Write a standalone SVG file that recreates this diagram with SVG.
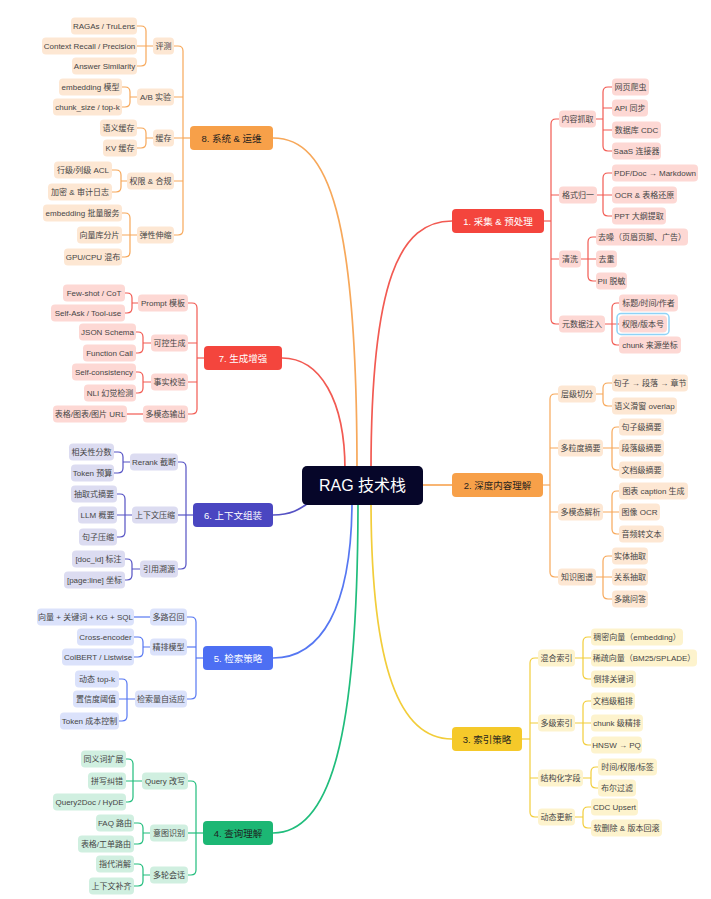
<svg xmlns="http://www.w3.org/2000/svg" width="711" height="899" viewBox="0 0 711 899">
<style>
text{font-family:"Liberation Sans","Noto Sans CJK SC",sans-serif;text-anchor:middle;dominant-baseline:central}
.n text{font-size:8px;fill:#454545}
.n rect{rx:4;ry:4}
.rd rect{fill:#fdd8d4}.or rect{fill:#fde7d3}.ye rect{fill:#fdf3cd}.gr rect{fill:#d0efe0}.bl rect{fill:#dbe2fb}.in rect{fill:#dcdcf1}
.b rect{rx:4;ry:4}.b text{font-size:9.5px}
.w text{fill:#fff}.k text{fill:#1e1e1e}
.c path{fill:none;stroke-width:1.2}
.m path{fill:none;stroke-width:1.7}
.cr path{stroke:#f25a52}.co path{stroke:#f7a85a}.cy path{stroke:#f2cd3a}.cg path{stroke:#20bd7c}.cb path{stroke:#5677f2}.ci path{stroke:#5552c4}
</style>
<g id="connectors">
<g class="m">
<path d="M371,470 C371,280 400,221 452,221" stroke="#f25a52"/>
<path d="M357,470 C357,220 330,138 273,138" stroke="#f7a85a"/>
<path d="M345,470 C345,400 320,358 282,358" stroke="#f25a52"/>
<path d="M273,515 C290,515 300,510 312,500" stroke="#5552c4"/>
<path d="M352,500 C352,610 320,658 273,658" stroke="#5677f2"/>
<path d="M358,500 C358,740 330,833 273,833" stroke="#20bd7c"/>
<path d="M371,500 C371,670 400,739 452,739" stroke="#f2cd3a"/>
<path d="M420,485 H452" stroke="#f7a85a"/>
</g>
<g class="c cr">
<path d="M544,221 H551"/>
<path d="M559,119 H556 Q551,119 551,124 V319 Q551,324 556,324 H559"/>
<path d="M551,195 H559 M551,259 H559"/>
<path d="M596,119 H603 M612,87 H608 Q603,87 603,92 V146 Q603,151 608,151 H612 M603,108 H612 M603,130 H612"/>
<path d="M597,195 H603 M612,173 H608 Q603,173 603,178 V211 Q603,216 608,216 H612 M603,195 H612"/>
<path d="M581,259 H588 M596,237 H593 Q588,237 588,242 V276 Q588,281 593,281 H596 M588,259 H596"/>
<path d="M605,324 H612 M619,303 H617 Q612,303 612,308 V340 Q612,345 617,345 H619 M612,324 H619"/>
<path d="M204,358 H197"/>
<path d="M188,303 H192 Q197,303 197,308 V409 Q197,414 192,414 H188"/>
<path d="M197,343 H188 M197,382 H188"/>
<path d="M138,303 H132 M125,293 H127 Q132,293 132,298 V308 Q132,313 127,313 H125"/>
<path d="M151,343 H143 M136,332 H138 Q143,332 143,337 V348 Q143,353 138,353 H136"/>
<path d="M151,382 H143 M136,372 H138 Q143,372 143,377 V388 Q143,393 138,393 H136"/>
<path d="M143,414 H127"/>
</g>
<g class="c co">
<path d="M543,485 H550"/>
<path d="M558,394 H555 Q550,394 550,399 V572 Q550,577 555,577 H558"/>
<path d="M550,448 H558 M550,512 H558"/>
<path d="M596,394 H603 M612,383 H608 Q603,383 603,388 V401 Q603,406 608,406 H612"/>
<path d="M603,448 H612 M619,427 H617 Q612,427 612,432 V465 Q612,470 617,470 H619 M612,448 H619"/>
<path d="M603,512 H612 M619,491 H617 Q612,491 612,496 V529 Q612,534 617,534 H619 M612,512 H619"/>
<path d="M596,577 H603 M612,556 H608 Q603,556 603,561 V594 Q603,599 608,599 H612 M603,577 H612"/>
<path d="M190,138 H183"/>
<path d="M174,46 H178 Q183,46 183,51 V230 Q183,235 178,235 H174"/>
<path d="M183,97 H174 M183,138 H174 M183,181 H174"/>
<path d="M153,46 H146 M137,26 H141 Q146,26 146,31 V61 Q146,66 141,66 H137 M146,46 H137"/>
<path d="M137,97 H130 M122,87 H125 Q130,87 130,92 V102 Q130,107 125,107 H122"/>
<path d="M153,138 H146 M137,128 H141 Q146,128 146,133 V143 Q146,148 141,148 H137"/>
<path d="M127,181 H121 M112,170 H116 Q121,170 121,175 V187 Q121,192 116,192 H112"/>
<path d="M137,235 H130 M122,213 H125 Q130,213 130,218 V252 Q130,257 125,257 H122 M130,235 H122"/>
</g>
<g class="c cy">
<path d="M522,739 H530"/>
<path d="M538,658 H535 Q530,658 530,663 V812 Q530,817 535,817 H538"/>
<path d="M530,723 H538 M530,778 H538"/>
<path d="M575,658 H583 M591,637 H588 Q583,637 583,642 V674 Q583,679 588,679 H591 M583,658 H591"/>
<path d="M575,723 H583 M591,701 H588 Q583,701 583,706 V740 Q583,745 588,745 H591 M583,723 H591"/>
<path d="M583,778 H591 M598,767 H596 Q591,767 591,772 V783 Q591,788 596,788 H598"/>
<path d="M575,817 H583 M591,807 H588 Q583,807 583,812 V823 Q583,828 588,828 H591"/>
</g>
<g class="c ci">
<path d="M193,515 H186"/>
<path d="M178,462 H181 Q186,462 186,467 V564 Q186,569 181,569 H178"/>
<path d="M186,515 H178"/>
<path d="M130,462 H123 M114,452 H118 Q123,452 123,457 V468 Q123,473 118,473 H114"/>
<path d="M132,515 H125 M117,494 H120 Q125,494 125,499 V532 Q125,537 120,537 H117 M125,515 H117"/>
<path d="M140,569 H132 M125,559 H127 Q132,559 132,564 V575 Q132,580 127,580 H125"/>
</g>
<g class="c cb">
<path d="M203,658 H196"/>
<path d="M187,617 H191 Q196,617 196,622 V694 Q196,699 191,699 H187"/>
<path d="M196,647 H187"/>
<path d="M150,617 H134"/>
<path d="M150,647 H143 M134,637 H138 Q143,637 143,642 V652 Q143,657 138,657 H134"/>
<path d="M135,699 H127 M119,679 H122 Q127,679 127,684 V716 Q127,721 122,721 H119 M127,699 H119"/>
</g>
<g class="c cg">
<path d="M203,833 H196"/>
<path d="M188,781 H191 Q196,781 196,786 V870 Q196,875 191,875 H188"/>
<path d="M196,833 H188"/>
<path d="M142,781 H133 M126,759 H128 Q133,759 133,764 V797 Q133,802 128,802 H126 M133,781 H126"/>
<path d="M150,833 H143 M134,823 H138 Q143,823 143,828 V839 Q143,844 138,844 H134"/>
<path d="M150,875 H143 M134,864 H138 Q143,864 143,869 V881 Q143,886 138,886 H134"/>
</g>
</g>
<g id="root"><rect x="302" y="466" width="121" height="39" rx="5" fill="#060629"/><text x="362.5" y="485.5" font-size="16" fill="#fff">RAG 技术栈</text></g>
<g class="b w" id="b1"><rect x="452" y="209" width="92" height="24" fill="#f4453d"/><text x="498" y="221">1. 采集 &amp; 预处理</text></g>
<g class="b k" id="b2"><rect x="452" y="473" width="91" height="24" fill="#f7a049"/><text x="497.5" y="485">2. 深度内容理解</text></g>
<g class="b k" id="b3"><rect x="452" y="727" width="70" height="24" fill="#f5c92a"/><text x="487" y="739">3. 索引策略</text></g>
<g class="b k" id="b4"><rect x="203" y="821" width="70" height="24" fill="#1cb774"/><text x="238" y="833">4. 查询理解</text></g>
<g class="b w" id="b5"><rect x="203" y="646" width="70" height="24" fill="#4d6ff3"/><text x="238" y="658">5. 检索策略</text></g>
<g class="b w" id="b6"><rect x="193" y="503" width="80" height="24" fill="#4a46c1"/><text x="233" y="515">6. 上下文组装</text></g>
<g class="b w" id="b7"><rect x="204" y="346" width="78" height="24" fill="#f4453d"/><text x="243" y="358">7. 生成增强</text></g>
<g class="b k" id="b8"><rect x="190" y="126" width="83" height="24" fill="#f7a049"/><text x="231.5" y="138">8. 系统 &amp; 运维</text></g>

<g class="n rd">
<g id="n1a"><rect x="559" y="110.5" width="37" height="17"/><text x="577.5" y="119">内容抓取</text></g>
<g id="n1a1"><rect x="612" y="78.5" width="37" height="17"/><text x="630.5" y="87">网页爬虫</text></g>
<g id="n1a2"><rect x="612" y="99.5" width="36" height="17"/><text x="630" y="108">API 同步</text></g>
<g id="n1a3"><rect x="612" y="121.5" width="49" height="17"/><text x="636.5" y="130">数据库 CDC</text></g>
<g id="n1a4"><rect x="612" y="142.5" width="49" height="17"/><text x="636.5" y="151">SaaS 连接器</text></g>
<g id="n1b"><rect x="559" y="186.5" width="38" height="17"/><text x="578" y="195">格式归一</text></g>
<g id="n1b1"><rect x="612" y="164.5" width="86" height="17"/><text x="655" y="173">PDF/Doc → Markdown</text></g>
<g id="n1b2"><rect x="612" y="186.5" width="65" height="17"/><text x="644.5" y="195">OCR &amp; 表格还原</text></g>
<g id="n1b3"><rect x="612" y="207.5" width="54" height="17"/><text x="639" y="216">PPT 大纲提取</text></g>
<g id="n1c"><rect x="559" y="250.5" width="22" height="17"/><text x="570" y="259">清洗</text></g>
<g id="n1c1"><rect x="596" y="228.5" width="92" height="17"/><text x="642" y="237">去噪（页眉页脚、广告）</text></g>
<g id="n1c2"><rect x="596" y="250.5" width="21" height="17"/><text x="606.5" y="259">去重</text></g>
<g id="n1c3"><rect x="596" y="272.5" width="31" height="17"/><text x="611.5" y="281">PII 脱敏</text></g>
<g id="n1d"><rect x="559" y="315.5" width="46" height="17"/><text x="582" y="324">元数据注入</text></g>
<g id="n1d1"><rect x="619" y="294.5" width="59" height="17"/><text x="648.5" y="303">标题/时间/作者</text></g>
<g id="n1d2"><rect x="617" y="313.5" width="52" height="21" fill="none" stroke="#8fd3f7" stroke-width="1.5" style="fill:none"/><rect x="619" y="315.5" width="48" height="17"/><text x="643" y="324">权限/版本号</text></g>
<g id="n1d3"><rect x="619" y="336.5" width="62" height="17"/><text x="650" y="345">chunk 来源坐标</text></g>
<g id="n7a"><rect x="138" y="294.5" width="50" height="17"/><text x="163" y="303">Prompt 模板</text></g>
<g id="n7a1"><rect x="63" y="284.5" width="62" height="17"/><text x="94" y="293">Few-shot / CoT</text></g>
<g id="n7a2"><rect x="51" y="304.5" width="74" height="17"/><text x="88" y="313">Self-Ask / Tool-use</text></g>
<g id="n7b"><rect x="151" y="334.5" width="37" height="17"/><text x="169.5" y="343">可控生成</text></g>
<g id="n7b1"><rect x="79" y="323.5" width="57" height="17"/><text x="107.5" y="332">JSON Schema</text></g>
<g id="n7b2"><rect x="83" y="344.5" width="53" height="17"/><text x="109.5" y="353">Function Call</text></g>
<g id="n7c"><rect x="151" y="373.5" width="37" height="17"/><text x="169.5" y="382">事实校验</text></g>
<g id="n7c1"><rect x="72" y="363.5" width="64" height="17"/><text x="104" y="372">Self-consistency</text></g>
<g id="n7c2"><rect x="84" y="384.5" width="52" height="17"/><text x="110" y="393">NLI 幻觉检测</text></g>
<g id="n7d"><rect x="143" y="405.5" width="45" height="17"/><text x="165.5" y="414">多模态输出</text></g>
<g id="n7d1"><rect x="53" y="405.5" width="74" height="17"/><text x="90" y="414">表格/图表/图片 URL</text></g>
</g>

<g class="n or">
<g id="n2a"><rect x="558" y="385.5" width="38" height="17"/><text x="577" y="394">层级切分</text></g>
<g id="n2a1"><rect x="612" y="374.5" width="76" height="17"/><text x="650" y="383">句子 → 段落 → 章节</text></g>
<g id="n2a2"><rect x="612" y="397.5" width="65" height="17"/><text x="644.5" y="406">语义滑窗 overlap</text></g>
<g id="n2b"><rect x="558" y="439.5" width="45" height="17"/><text x="580.5" y="448">多粒度摘要</text></g>
<g id="n2b1"><rect x="619" y="418.5" width="45" height="17"/><text x="641.5" y="427">句子级摘要</text></g>
<g id="n2b2"><rect x="619" y="439.5" width="45" height="17"/><text x="641.5" y="448">段落级摘要</text></g>
<g id="n2b3"><rect x="619" y="461.5" width="45" height="17"/><text x="641.5" y="470">文档级摘要</text></g>
<g id="n2c"><rect x="558" y="503.5" width="45" height="17"/><text x="580.5" y="512">多模态解析</text></g>
<g id="n2c1"><rect x="619" y="482.5" width="69" height="17"/><text x="653.5" y="491">图表 caption 生成</text></g>
<g id="n2c2"><rect x="619" y="503.5" width="41" height="17"/><text x="639.5" y="512">图像 OCR</text></g>
<g id="n2c3"><rect x="619" y="525.5" width="45" height="17"/><text x="641.5" y="534">音频转文本</text></g>
<g id="n2d"><rect x="558" y="568.5" width="38" height="17"/><text x="577" y="577">知识图谱</text></g>
<g id="n2d1"><rect x="612" y="547.5" width="36" height="17"/><text x="630" y="556">实体抽取</text></g>
<g id="n2d2"><rect x="612" y="568.5" width="36" height="17"/><text x="630" y="577">关系抽取</text></g>
<g id="n2d3"><rect x="612" y="590.5" width="36" height="17"/><text x="630" y="599">多跳问答</text></g>
<g id="n8a"><rect x="153" y="37.5" width="21" height="17"/><text x="163.5" y="46">评测</text></g>
<g id="n8a1"><rect x="71" y="17.5" width="66" height="17"/><text x="104" y="26">RAGAs / TruLens</text></g>
<g id="n8a2"><rect x="42" y="37.5" width="95" height="17"/><text x="89.5" y="46">Context Recall / Precision</text></g>
<g id="n8a3"><rect x="72" y="57.5" width="65" height="17"/><text x="104.5" y="66">Answer Similarity</text></g>
<g id="n8b"><rect x="137" y="88.5" width="37" height="17"/><text x="155.5" y="97">A/B 实验</text></g>
<g id="n8b1"><rect x="59" y="78.5" width="63" height="17"/><text x="90.5" y="87">embedding 模型</text></g>
<g id="n8b2"><rect x="53" y="98.5" width="69" height="17"/><text x="87.5" y="107">chunk_size / top-k</text></g>
<g id="n8c"><rect x="153" y="129.5" width="21" height="17"/><text x="163.5" y="138">缓存</text></g>
<g id="n8c1"><rect x="100" y="119.5" width="37" height="17"/><text x="118.5" y="128">语义缓存</text></g>
<g id="n8c2"><rect x="103" y="139.5" width="34" height="17"/><text x="120" y="148">KV 缓存</text></g>
<g id="n8d"><rect x="127" y="172.5" width="47" height="17"/><text x="150.5" y="181">权限 &amp; 合规</text></g>
<g id="n8d1"><rect x="54" y="161.5" width="58" height="17"/><text x="83" y="170">行级/列级 ACL</text></g>
<g id="n8d2"><rect x="48" y="183.5" width="64" height="17"/><text x="80" y="192">加密 &amp; 审计日志</text></g>
<g id="n8e"><rect x="137" y="226.5" width="37" height="17"/><text x="155.5" y="235">弹性伸缩</text></g>
<g id="n8e1"><rect x="43" y="204.5" width="79" height="17"/><text x="82.5" y="213">embedding 批量服务</text></g>
<g id="n8e2"><rect x="77" y="226.5" width="45" height="17"/><text x="99.5" y="235">向量库分片</text></g>
<g id="n8e3"><rect x="64" y="248.5" width="58" height="17"/><text x="93" y="257">GPU/CPU 混布</text></g>
</g>

<g class="n ye">
<g id="n3a"><rect x="538" y="649.5" width="37" height="17"/><text x="556.5" y="658">混合索引</text></g>
<g id="n3a1"><rect x="591" y="628.5" width="92" height="17"/><text x="637" y="637">稠密向量（embedding）</text></g>
<g id="n3a2"><rect x="591" y="649.5" width="106" height="17"/><text x="644" y="658">稀疏向量（BM25/SPLADE）</text></g>
<g id="n3a3"><rect x="591" y="670.5" width="45" height="17"/><text x="613.5" y="679">倒排关键词</text></g>
<g id="n3b"><rect x="538" y="714.5" width="37" height="17"/><text x="556.5" y="723">多级索引</text></g>
<g id="n3b1"><rect x="591" y="692.5" width="44" height="17"/><text x="613" y="701">文档级粗排</text></g>
<g id="n3b2"><rect x="591" y="714.5" width="52" height="17"/><text x="617" y="723">chunk 级精排</text></g>
<g id="n3b3"><rect x="591" y="736.5" width="51" height="17"/><text x="616.5" y="745">HNSW → PQ</text></g>
<g id="n3c"><rect x="538" y="769.5" width="45" height="17"/><text x="560.5" y="778">结构化字段</text></g>
<g id="n3c1"><rect x="598" y="758.5" width="59" height="17"/><text x="627.5" y="767">时间/权限/标签</text></g>
<g id="n3c2"><rect x="598" y="779.5" width="38" height="17"/><text x="617" y="788">布尔过滤</text></g>
<g id="n3d"><rect x="538" y="808.5" width="37" height="17"/><text x="556.5" y="817">动态更新</text></g>
<g id="n3d1"><rect x="591" y="798.5" width="47" height="17"/><text x="614.5" y="807">CDC Upsert</text></g>
<g id="n3d2"><rect x="591" y="819.5" width="71" height="17"/><text x="626.5" y="828">软删除 &amp; 版本回滚</text></g>
</g>

<g class="n in">
<g id="n6a"><rect x="130" y="453.5" width="48" height="17"/><text x="154" y="462">Rerank 截断</text></g>
<g id="n6a1"><rect x="69" y="443.5" width="45" height="17"/><text x="91.5" y="452">相关性分数</text></g>
<g id="n6a2"><rect x="71" y="464.5" width="43" height="17"/><text x="92.5" y="473">Token 预算</text></g>
<g id="n6b"><rect x="132" y="506.5" width="46" height="17"/><text x="155" y="515">上下文压缩</text></g>
<g id="n6b1"><rect x="71" y="485.5" width="46" height="17"/><text x="94" y="494">抽取式摘要</text></g>
<g id="n6b2"><rect x="78" y="506.5" width="39" height="17"/><text x="97.5" y="515">LLM 概要</text></g>
<g id="n6b3"><rect x="79" y="528.5" width="38" height="17"/><text x="98" y="537">句子压缩</text></g>
<g id="n6c"><rect x="140" y="560.5" width="38" height="17"/><text x="159" y="569">引用溯源</text></g>
<g id="n6c1"><rect x="72" y="550.5" width="53" height="17"/><text x="98.5" y="559">[doc_id] 标注</text></g>
<g id="n6c2"><rect x="64" y="571.5" width="61" height="17"/><text x="94.5" y="580">[page:line] 坐标</text></g>
</g>

<g class="n bl">
<g id="n5a"><rect x="150" y="608.5" width="37" height="17"/><text x="168.5" y="617">多路召回</text></g>
<g id="n5a1"><rect x="37" y="608.5" width="97" height="17"/><text x="85.5" y="617">向量 + 关键词 + KG + SQL</text></g>
<g id="n5b"><rect x="150" y="638.5" width="37" height="17"/><text x="168.5" y="647">精排模型</text></g>
<g id="n5b1"><rect x="77" y="628.5" width="57" height="17"/><text x="105.5" y="637">Cross-encoder</text></g>
<g id="n5b2"><rect x="62" y="648.5" width="72" height="17"/><text x="98" y="657">ColBERT / Listwise</text></g>
<g id="n5c"><rect x="135" y="690.5" width="52" height="17"/><text x="161" y="699">检索量自适应</text></g>
<g id="n5c1"><rect x="75" y="670.5" width="44" height="17"/><text x="97" y="679">动态 top-k</text></g>
<g id="n5c2"><rect x="73" y="690.5" width="46" height="17"/><text x="96" y="699">置信度阈值</text></g>
<g id="n5c3"><rect x="60" y="712.5" width="59" height="17"/><text x="89.5" y="721">Token 成本控制</text></g>
</g>

<g class="n gr">
<g id="n4a"><rect x="142" y="772.5" width="46" height="17"/><text x="165" y="781">Query 改写</text></g>
<g id="n4a1"><rect x="81" y="750.5" width="45" height="17"/><text x="103.5" y="759">同义词扩展</text></g>
<g id="n4a2"><rect x="88" y="772.5" width="38" height="17"/><text x="107" y="781">拼写纠错</text></g>
<g id="n4a3"><rect x="53" y="793.5" width="73" height="17"/><text x="89.5" y="802">Query2Doc / HyDE</text></g>
<g id="n4b"><rect x="150" y="824.5" width="38" height="17"/><text x="169" y="833">意图识别</text></g>
<g id="n4b1"><rect x="96" y="814.5" width="38" height="17"/><text x="115" y="823">FAQ 路由</text></g>
<g id="n4b2"><rect x="78" y="835.5" width="56" height="17"/><text x="106" y="844">表格/工单路由</text></g>
<g id="n4c"><rect x="150" y="866.5" width="38" height="17"/><text x="169" y="875">多轮会话</text></g>
<g id="n4c1"><rect x="96" y="855.5" width="38" height="17"/><text x="115" y="864">指代消解</text></g>
<g id="n4c2"><rect x="89" y="877.5" width="45" height="17"/><text x="111.5" y="886">上下文补齐</text></g>
</g>
</svg>
